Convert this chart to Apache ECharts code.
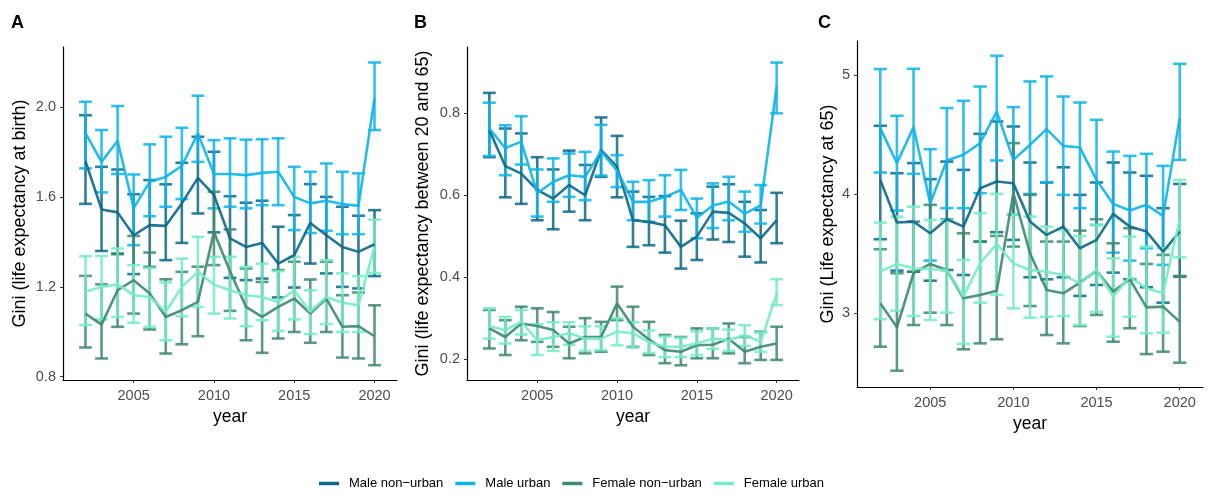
<!DOCTYPE html>
<html>
<head>
<meta charset="utf-8">
<script src="https://cdn.jsdelivr.net/npm/echarts@6/dist/echarts.min.js"></script>
<style>
  html, body { margin: 0; padding: 0; background: #fff; }
  #chart { width: 1207px; height: 497px; }
</style>
</head>
<body>
<div id="chart"></div>
<script>
// Survey years
const years = [2002, 2003, 2004, 2005, 2006, 2007, 2008, 2009, 2010, 2011,
               2012, 2013, 2014, 2015, 2016, 2017, 2018, 2019, 2020];

const groups = ['Male non\u2212urban', 'Male urban', 'Female non\u2212urban', 'Female urban'];

// Each row: [lower, mean, upper] per year
// Gini of life expectancy at birth
const birthMaleNonUrban = [[1.57,1.76,1.965],[1.36,1.545,1.735],[1.346,1.532,1.723],[1.257,1.43,1.613],[1.289,1.475,1.676],[1.319,1.472,1.657],[1.396,1.572,1.753],[1.527,1.686,1.869],[1.443,1.61,1.802],[1.24,1.416,1.604],[1.23,1.378,1.575],[1.237,1.396,1.584],[1.153,1.304,1.468],[1.197,1.341,1.52],[1.304,1.485,1.658],[1.26,1.43,1.601],[1.2,1.378,1.557],[1.193,1.356,1.517],[1.248,1.39,1.542]];
const birthMaleUrban = [[1.728,1.885,2.025],[1.621,1.757,1.899],[1.703,1.851,2.006],[1.386,1.551,1.701],[1.515,1.668,1.835],[1.557,1.69,1.869],[1.591,1.74,1.909],[1.757,1.884,2.052],[1.55,1.703,1.854],[1.557,1.703,1.862],[1.55,1.698,1.856],[1.564,1.708,1.858],[1.564,1.713,1.862],[1.453,1.601,1.735],[1.44,1.572,1.713],[1.45,1.584,1.75],[1.435,1.569,1.713],[1.435,1.561,1.706],[1.899,2.04,2.2]];
const birthFemaleNonUrban = [[0.93,1.081,1.249],[0.881,1.032,1.211],[1.022,1.185,1.349],[1.081,1.23,1.427],[1.01,1.171,1.353],[0.903,1.066,1.234],[0.944,1.096,1.267],[0.98,1.133,1.29],[1.297,1.445,1.624],[1.093,1.27,1.456],[0.962,1.111,1.282],[0.906,1.066,1.222],[0.97,1.111,1.275],[0.999,1.148,1.312],[0.951,1.081,1.233],[0.999,1.148,1.312],[0.885,1.022,1.163],[0.881,1.025,1.175],[0.851,0.98,1.118]];
const birthFemaleUrban = [[1.03,1.178,1.337],[1.055,1.2,1.338],[1.066,1.211,1.371],[1.04,1.163,1.297],[1.022,1.155,1.285],[0.962,1.089,1.22],[1.069,1.2,1.326],[1.111,1.267,1.423],[1.081,1.21,1.334],[1.059,1.185,1.334],[1.025,1.163,1.289],[1.051,1.155,1.304],[1.004,1.133,1.27],[1.055,1.185,1.334],[0.99,1.089,1.185],[1.034,1.155,1.319],[0.999,1.129,1.26],[0.999,1.118,1.248],[1.262,1.378,1.5]];

// Gini of life expectancy between 20 and 65
const midMaleNonUrban = [[0.693,0.759,0.85],[0.595,0.671,0.763],[0.579,0.653,0.751],[0.539,0.613,0.693],[0.517,0.592,0.663],[0.56,0.625,0.709],[0.539,0.6,0.674],[0.645,0.71,0.79],[0.595,0.67,0.745],[0.474,0.539,0.609],[0.478,0.535,0.596],[0.46,0.527,0.598],[0.421,0.474,0.538],[0.442,0.499,0.556],[0.492,0.56,0.621],[0.486,0.557,0.627],[0.45,0.531,0.584],[0.436,0.495,0.564],[0.483,0.539,0.606]];
const midMaleUrban = [[0.696,0.763,0.826],[0.649,0.715,0.771],[0.675,0.731,0.793],[0.548,0.605,0.663],[0.584,0.633,0.69],[0.596,0.649,0.702],[0.588,0.645,0.706],[0.648,0.707,0.772],[0.62,0.66,0.698],[0.539,0.584,0.633],[0.535,0.584,0.637],[0.548,0.596,0.649],[0.564,0.613,0.662],[0.495,0.545,0.592],[0.52,0.575,0.629],[0.539,0.585,0.645],[0.511,0.555,0.609],[0.531,0.575,0.625],[0.8,0.865,0.924]];
const midFemaleNonUrban = [[0.226,0.275,0.32],[0.21,0.254,0.295],[0.246,0.287,0.328],[0.242,0.281,0.324],[0.23,0.271,0.315],[0.202,0.238,0.279],[0.214,0.254,0.3],[0.218,0.254,0.291],[0.295,0.336,0.377],[0.23,0.279,0.328],[0.21,0.248,0.291],[0.19,0.222,0.259],[0.185,0.218,0.254],[0.202,0.234,0.275],[0.202,0.235,0.275],[0.214,0.25,0.287],[0.19,0.218,0.254],[0.198,0.23,0.267],[0.198,0.238,0.279]];
const midFemaleUrban = [[0.25,0.28,0.324],[0.238,0.271,0.303],[0.26,0.291,0.32],[0.21,0.246,0.285],[0.22,0.254,0.29],[0.235,0.263,0.29],[0.22,0.25,0.28],[0.222,0.25,0.28],[0.234,0.267,0.3],[0.228,0.263,0.29],[0.215,0.242,0.27],[0.205,0.23,0.255],[0.205,0.23,0.252],[0.21,0.238,0.268],[0.225,0.25,0.275],[0.22,0.246,0.272],[0.232,0.259,0.283],[0.218,0.242,0.265],[0.332,0.36,0.395]];

// Gini of life expectancy at 65
const oldMaleNonUrban = [[3.623,4.122,4.577],[3.359,3.763,4.178],[3.35,3.771,4.263],[3.274,3.673,4.128],[3.364,3.791,4.276],[3.322,3.729,4.206],[3.603,4.052,4.509],[3.682,4.108,4.613],[3.617,4.094,4.571],[3.303,3.771,4.268],[3.286,3.659,4.1],[3.303,3.729,4.228],[3.146,3.547,3.996],[3.238,3.617,4.1],[3.342,3.836,4.268],[3.286,3.729,4.184],[3.219,3.687,4.156],[3.089,3.519,3.884],[3.308,3.687,4.088]];
const oldMaleUrban = [[4.184,4.557,5.054],[3.864,4.263,4.661],[4.173,4.566,5.056],[3.443,3.926,4.38],[3.884,4.285,4.726],[3.884,4.333,4.787],[4.01,4.431,4.907],[4.285,4.697,5.166],[3.83,4.29,4.734],[4.004,4.417,4.95],[4.1,4.549,4.992],[3.996,4.408,4.823],[3.884,4.394,4.773],[3.743,4.122,4.627],[3.51,3.92,4.36],[3.443,3.864,4.324],[3.547,3.912,4.341],[3.407,3.819,4.24],[4.29,4.641,5.098]];
const oldFemaleNonUrban = [[2.719,3.084,3.539],[2.517,2.882,3.337],[2.901,3.337,3.771],[3.005,3.415,3.912],[2.901,3.364,3.791],[2.697,3.126,3.673],[2.747,3.154,3.603],[2.781,3.19,3.651],[3.561,4.01,4.431],[3.061,3.505,3.996],[2.817,3.196,3.603],[2.747,3.168,3.603],[2.893,3.258,3.695],[2.986,3.359,3.791],[2.761,3.182,3.589],[2.874,3.286,3.715],[2.657,3.05,3.415],[2.677,3.056,3.491],[2.584,2.929,3.314]];
const oldFemaleUrban = [[2.95,3.35,3.763],[3.022,3.415,3.813],[2.977,3.379,3.897],[2.944,3.37,3.785],[3.005,3.364,3.785],[2.742,3.14,3.449],[3.089,3.421,3.842],[3.154,3.583,4.004],[3.042,3.42,3.83],[2.963,3.364,3.813],[2.971,3.35,3.729],[2.977,3.322,3.7],[2.901,3.252,3.651],[3.013,3.364,3.743],[2.803,3.14,3.463],[2.971,3.308,3.645],[2.832,3.21,3.561],[2.837,3.168,3.547],[3.471,3.79,4.122]];

const xTicks = [2005, 2010, 2015, 2020];
const birthTicks = [0.8, 1.2, 1.6, 2.0];
const midTicks = [0.2, 0.4, 0.6, 0.8];
const oldTicks = [3, 4, 5];

const colors = ['#0b688a', '#0db4e9', '#3e8a6e', '#74ecc4'];
const FONT = '"Liberation Sans", Arial, sans-serif';

const panels = [
  { rows: [birthMaleNonUrban, birthMaleUrban, birthFemaleNonUrban, birthFemaleUrban],
    grid: { left: 63, top: 47, width: 334, height: 333 },
    yMin: 0.785, yMax: 2.269, ticks: birthTicks, digits: 1, nameGap: 34,
    title: 'Gini (life expectancy at birth)' },
  { rows: [midMaleNonUrban, midMaleUrban, midFemaleNonUrban, midFemaleUrban],
    grid: { left: 467, top: 47, width: 332, height: 333 },
    yMin: 0.149, yMax: 0.962, ticks: midTicks, digits: 1, nameGap: 35,
    title: 'Gini (life expectancy between 20 and 65)' },
  { rows: [oldMaleNonUrban, oldMaleUrban, oldFemaleNonUrban, oldFemaleUrban],
    grid: { left: 857, top: 41, width: 346, height: 346 },
    yMin: 2.38, yMax: 5.29, ticks: oldTicks, digits: 0, nameGap: 20,
    title: 'Gini (Life expectancy at 65)' }
];

const CAP = 0.4; // half width of error bar caps, in years

function errorBar(color) {
  return function (params, api) {
    const x = api.value(0), lo = api.value(1), hi = api.value(2);
    const t = api.coord([x, hi]);
    const b = api.coord([x, lo]);
    const tl = api.coord([x - CAP, hi]), tr = api.coord([x + CAP, hi]);
    const bl = api.coord([x - CAP, lo]), br = api.coord([x + CAP, lo]);
    const style = { stroke: color, lineWidth: 2.6, opacity: 0.85 };
    return {
      type: 'group',
      children: [
        { type: 'line', shape: { x1: t[0], y1: t[1], x2: b[0], y2: b[1] }, style },
        { type: 'line', shape: { x1: tl[0], y1: tl[1], x2: tr[0], y2: tr[1] }, style },
        { type: 'line', shape: { x1: bl[0], y1: bl[1], x2: br[0], y2: br[1] }, style }
      ]
    };
  };
}

const grids = [], xAxes = [], yAxes = [], series = [];

panels.forEach((p, i) => {
  grids.push(p.grid);
  xAxes.push({
    type: 'value', gridIndex: i, min: 2000.6, max: 2021.4,
    name: 'year', nameLocation: 'middle', nameGap: 28,
    nameTextStyle: { fontFamily: FONT, fontSize: 17.5, color: '#000' },
    axisLine: { show: true, lineStyle: { color: '#000', width: 1.2 } },
    axisTick: { show: true, customValues: xTicks, length: 3, lineStyle: { color: '#333', width: 1 } },
    axisLabel: {
      customValues: xTicks, fontFamily: FONT, fontSize: 14.5, color: '#4d4d4d', margin: 8,
      formatter: v => String(Math.round(v))
    },
    splitLine: { show: false }
  });
  yAxes.push({
    type: 'value', gridIndex: i, min: p.yMin, max: p.yMax,
    name: p.title, nameLocation: 'middle', nameGap: p.nameGap, nameRotate: 90,
    nameTextStyle: { fontFamily: FONT, fontSize: 18, color: '#000' },
    axisLine: { show: true, lineStyle: { color: '#000', width: 1.2 } },
    axisTick: { show: true, customValues: p.ticks, length: 3, lineStyle: { color: '#333', width: 1 } },
    axisLabel: {
      customValues: p.ticks, fontFamily: FONT, fontSize: 14.5, color: '#4d4d4d', margin: 7,
      formatter: v => Number(v).toFixed(p.digits)
    },
    splitLine: { show: false }
  });
  p.rows.forEach((rows, g) => {
    series.push({
      name: groups[g], type: 'line', xAxisIndex: i, yAxisIndex: i,
      data: years.map((y, k) => [y, rows[k][1]]),
      showSymbol: false, symbol: 'none', silent: true,
      lineStyle: { color: colors[g], width: 2.6, opacity: 0.9 },
      itemStyle: { color: colors[g] },
      z: 2
    });
    series.push({
      name: groups[g], type: 'custom', xAxisIndex: i, yAxisIndex: i,
      data: years.map((y, k) => [y, rows[k][0], rows[k][2]]),
      encode: { x: 0, y: [1, 2] },
      renderItem: errorBar(colors[g]),
      silent: true, clip: false, z: 2
    });
  });
});

const chart = echarts.init(document.getElementById('chart'), null, { renderer: 'canvas' });
chart.setOption({
  animation: false,
  backgroundColor: '#fff',
  grid: grids,
  xAxis: xAxes,
  yAxis: yAxes,
  series: series,
  legend: {
    data: groups.map((n, g) => ({ name: n, itemStyle: { color: colors[g] } })),
    left: 314, top: 472, icon: 'rect', itemWidth: 20, itemHeight: 3.5, itemGap: 12,
    textStyle: { fontFamily: FONT, fontSize: 13, color: '#000', padding: [0, 0, 0, 5] },
    selectedMode: false
  },
  graphic: [
    { type: 'text', left: 11, top: 14, style: { text: 'A', font: 'bold 18px ' + FONT, fill: '#000' } },
    { type: 'text', left: 414, top: 14, style: { text: 'B', font: 'bold 18px ' + FONT, fill: '#000' } },
    { type: 'text', left: 818, top: 14, style: { text: 'C', font: 'bold 18px ' + FONT, fill: '#000' } }
  ]
});
</script>
</body>
</html>
